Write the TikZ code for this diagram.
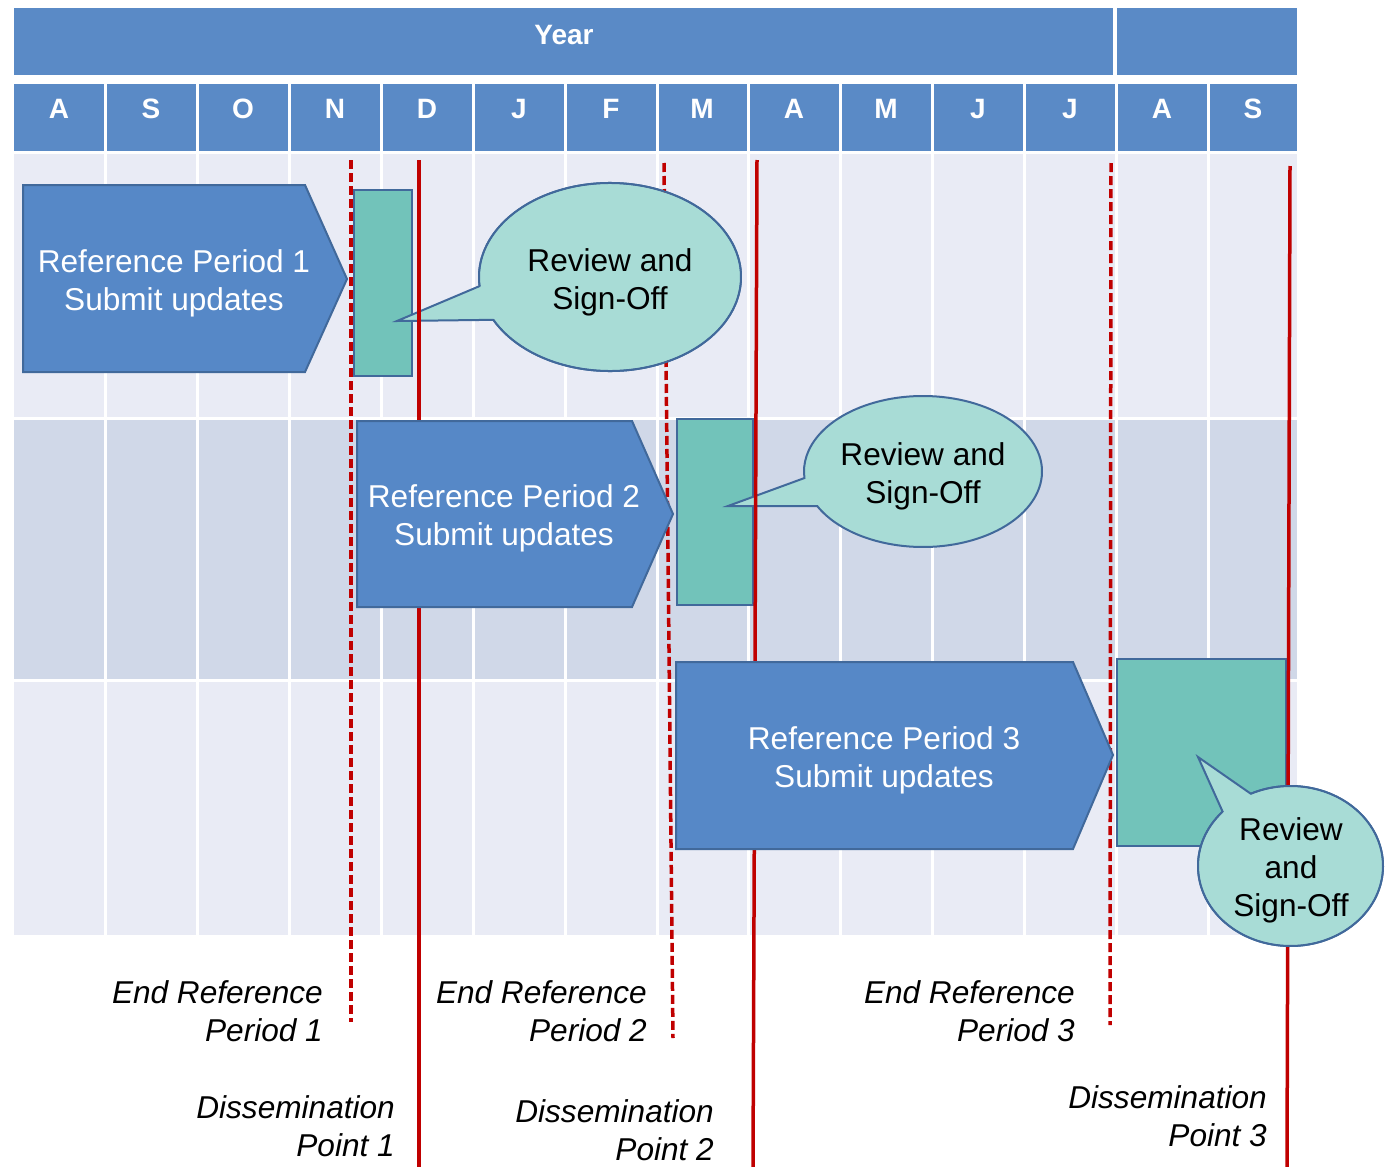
\documentclass[tikz,border=0pt]{standalone}
\usepackage{fontspec}
\setmainfont{Liberation Sans}
\definecolor{hdr}{HTML}{5A8AC6}
\definecolor{lightrow}{HTML}{E9EBF5}
\definecolor{midrow}{HTML}{D0D8E8}
\definecolor{arrfill}{HTML}{5688C7}
\definecolor{shline}{HTML}{41699B}
\definecolor{tealbox}{HTML}{72C3BA}
\definecolor{calfill}{HTML}{A8DCD6}
\definecolor{redline}{HTML}{C00000}
\begin{document}
\begin{tikzpicture}[x=1pt,y=-1pt,
  month/.style={text=white,font=\fontsize{28}{30}\selectfont\bfseries,anchor=base,inner sep=0pt},
  sep/.style={white,line width=3pt},
  arrowbox/.style={fill=arrfill,draw=shline,line width=2pt,line join=miter},
  tealrect/.style={fill=tealbox,draw=shline,line width=2pt},
  callout/.style={fill=calfill,draw=shline,line width=2pt,line join=miter},
  solidred/.style={redline,line width=3.5pt},
  dashred/.style={redline,line width=3.5pt,dash pattern=on 9pt off 4pt},
  wtext/.style={text=white,font=\fontsize{31.6}{38}\selectfont,align=center,inner sep=0pt},
  btext/.style={text=black,font=\fontsize{31.6}{38}\selectfont,align=center,inner sep=0pt},
  itext/.style={text=black,font=\fontsize{31.6}{38}\selectfont\itshape,align=right,inner sep=0pt,anchor=east}]
\useasboundingbox (0,0) rectangle (1385,1167);
% header
\fill[hdr] (14,8) rectangle (1297,75);
\draw[white,line width=4pt] (1115,8) -- (1115,75);
\node[month] (year) at (564,44) {Year};
\fill[hdr] (14,84) rectangle (1297,151);
\foreach \xx in {105,197,289,381,473,565,657,748,840,932,1024,1116,1208}
  \draw[sep] (\xx,84) -- (\xx,151);
\foreach \xx/\m/\n in {59/A/m1,151/S/m2,243/O/m3,335/N/m4,427/D/m5,519/J/m6,611/F/m7,702/M/m8,794/A/m9,886/M/m10,978/J/m11,1070/J/m12,1162/A/m13,1253/S/m14}
  \node[month] (\n) at (\xx,118) {\m};
% body
\fill[lightrow] (14,154) rectangle (1297,935);
\fill[midrow] (14,420) rectangle (1297,679);
\draw[sep] (14,418.5) -- (1297,418.5);
\draw[sep] (14,680.5) -- (1297,680.5);
\foreach \xx in {105,197,289,381,473,565,657,748,840,932,1024,1116,1208}
  \draw[sep] (\xx,154) -- (\xx,935);
% teal boxes
\draw[tealrect] (354,190) rectangle (412,376);
\draw[tealrect] (677,419) rectangle (753,605);
\draw[tealrect] (1117,659) rectangle (1286,846);
% callouts
\coordinate (c1) at (610,277);
\coordinate (c2) at (923,471.5);
\coordinate (c3) at (1290.5,866);
\coordinate (t1) at (397,321);
\coordinate (t2) at (728,506);
\coordinate (t3) at (1198,757);
\path[callout] (c1) ++(207.1:131pt and 94pt) arc[start angle=207.1,end angle=545.55,x radius=131pt,y radius=94pt] -- (t1) -- cycle;
\path[callout] (c2) ++(207.2:119pt and 75.5pt) arc[start angle=207.2,end angle=544.96,x radius=119pt,y radius=75.5pt] -- (t2) -- cycle;
\path[callout] (c3) ++(137.2:92.5pt and 80pt) arc[start angle=137.2,end angle=475.4,x radius=92.5pt,y radius=80pt] -- (t3) -- cycle;
% red lines
\draw[dashred] (351,160) -- (351,1022);
\draw[solidred] (419,160) -- (419,1167);
\draw[dashred] (664,163) -- (673,1038);
\draw[solidred] (757,160) -- (753,1167);
\draw[dashred] (1111,163) -- (1110,1025);
\draw[solidred] (1290,166) -- (1287,1167);
% arrows
\draw[arrowbox] (23,185) -- (305,185) -- (347,279) -- (305,372) -- (23,372) -- cycle;
\draw[arrowbox] (357,421) -- (632,421) -- (673,514) -- (632,607) -- (357,607) -- cycle;
\draw[arrowbox] (676,662) -- (1073,662) -- (1113,755) -- (1073,849) -- (676,849) -- cycle;
% re-cover ellipse bodies over red lines
\fill[calfill] (c1) ellipse[x radius=130pt,y radius=93pt];
\draw[callout,fill=none] (c1) ++(207.1:131pt and 94pt) arc[start angle=207.1,end angle=545.55,x radius=131pt,y radius=94pt];
\fill[calfill] (c3) ellipse[x radius=91.5pt,y radius=79pt];
\draw[callout,fill=none] (c3) ++(137.2:92.5pt and 80pt) arc[start angle=137.2,end angle=475.4,x radius=92.5pt,y radius=80pt];
% texts
\node[wtext] (a1) at (174,283) {Reference Period 1\\Submit updates};
\node[wtext] (a2) at (504,518) {Reference Period 2\\Submit updates};
\node[wtext] (a3) at (884,760) {Reference Period 3\\Submit updates};
\node[btext] (r1) at (610,282) {Review and\\Sign-Off};
\node[btext] (r2) at (923,476) {Review and\\Sign-Off};
\node[btext] (r3) at (1291,870) {Review\\and\\Sign-Off};
\node[itext] (e1) at (323,1011) {End Reference\\Period 1};
\node[itext] (e2) at (647,1011) {End Reference\\Period 2};
\node[itext] (e3) at (1075,1011) {End Reference\\Period 3};
\node[itext] (d1) at (395,1126) {Dissemination\\Point 1};
\node[itext] (d2) at (714,1130) {Dissemination\\Point 2};
\node[itext] (d3) at (1267,1116) {Dissemination\\Point 3};
\end{tikzpicture}
\end{document}
